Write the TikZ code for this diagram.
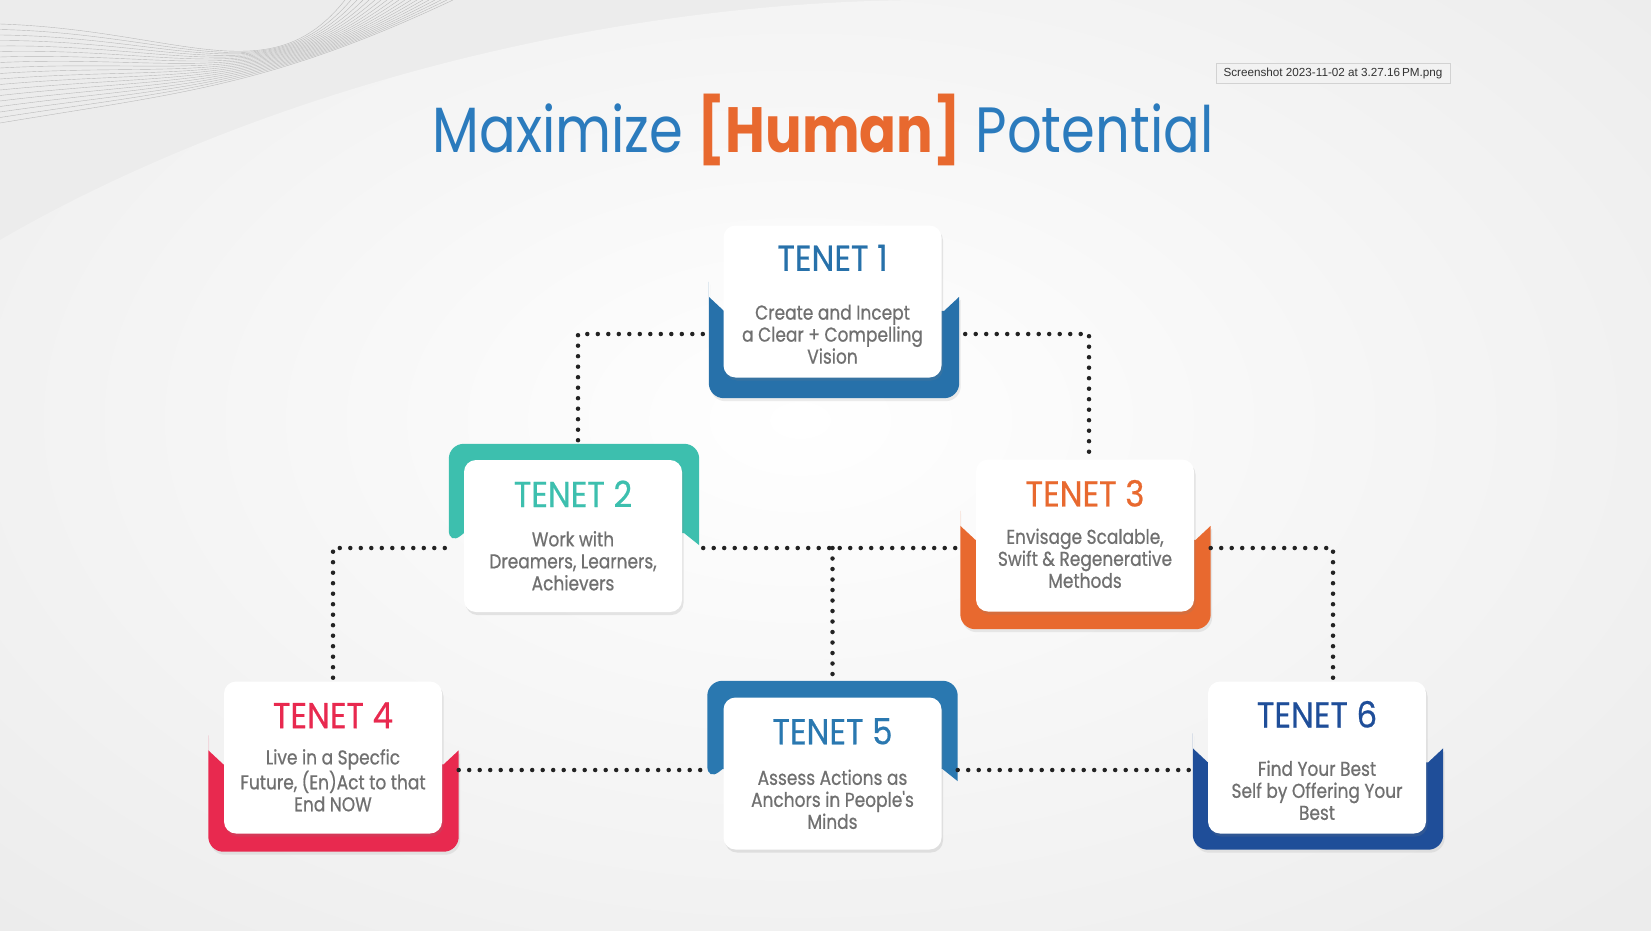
\documentclass[tikz,border=0pt]{standalone}
\usepackage{fontspec}
\setmainfont{Poppins}
\newfontfamily\titlefont[FakeStretch=0.85]{Poppins}
\newfontfamily\tenetfont[FakeStretch=0.9,FakeBold=0.6]{Poppins}
\newfontfamily\descfont[FakeStretch=0.85,FakeBold=0.7]{Poppins}
\newfontfamily\uifont{Liberation Sans}
\usetikzlibrary{calc,shadows}
\definecolor{bgray}{HTML}{ECECEC}
\definecolor{titleblue}{HTML}{2B7BBD}
\definecolor{horange}{HTML}{E8692F}
\definecolor{cblue}{HTML}{2771AA}
\definecolor{cteal}{HTML}{3DBFAE}
\definecolor{corange}{HTML}{E8692F}
\definecolor{cred}{HTML}{E8294F}
\definecolor{cblueb}{HTML}{2A78B0}
\definecolor{cnavy}{HTML}{1F4E99}
\definecolor{desccol}{HTML}{707070}
\definecolor{dotcol}{HTML}{222222}
\tikzset{
  card/.style={fill=white, rounded corners=12pt, minimum width=218pt, minimum height=152pt, inner sep=0pt,
    drop shadow={opacity=0.18, shadow xshift=1.5pt, shadow yshift=-3pt}},
  backbox/.style={minimum width=250pt, minimum height=101pt, inner sep=0pt},
  tenettitle/.style={font=\tenetfont\fontsize{36}{40}\selectfont, inner sep=0pt},
  desc/.style={font=\descfont\fontsize{20}{22}\selectfont, text=desccol, align=center, inner sep=0pt},
  dotline/.style={draw=dotcol, line width=4.5pt, line cap=round, dash pattern=on 0pt off 10.5pt},
}
\newcommand{\bottomtab}[2]{%
  \fill[#2, drop shadow={opacity=0.15, shadow xshift=1.5pt, shadow yshift=-3pt}] (#1.north west) -- ++(15,14) -- ($(#1.north east)+(-15,14)$) -- (#1.north east) [rounded corners=15pt] -- (#1.south east) -- (#1.south west) -- (#1.north west) [sharp corners] -- cycle;}
\newcommand{\toptab}[2]{%
  \fill[#2] (#1.south east) [rounded corners=15pt] -- (#1.north east) -- (#1.north west) -- (#1.south west) [sharp corners] -- ++(15,-12) -- ($(#1.south east)+(-15,-12)$) -- cycle;}
\begin{document}
\begin{tikzpicture}[x=1pt,y=-1pt]
\useasboundingbox (0,0) rectangle (1651,931);
% background
\fill[bgray] (0,0) rectangle (1651,931);
\begin{scope}
  \clip (0,240) .. controls (250,95) and (600,0) .. (930,0) -- (1651,0) -- (1651,931) -- (0,931) -- cycle;
  \shade[inner color=white, outer color=bgray] (800,420) ellipse (1150pt and 700pt);
\end{scope}
% wavy lines
\foreach \i in {0,...,18}{
  \draw[gray!55, line width=0.4pt] (0,{24+5.5*\i}) .. controls (180,{30+3.5*\i}) and (270,{95-0.5*\i}) .. ({345+6*\i},0);
}
% screenshot label
\node[fill=bgray!70, draw=gray!35, line width=0.4pt, minimum width=234pt, minimum height=20pt, inner sep=0pt,
  font=\uifont\fontsize{11.7}{13}\selectfont, text=black!80,
  drop shadow={opacity=0.12, shadow xshift=0.5pt, shadow yshift=-1pt}] (shot) at (1333,73) {Screenshot 2023-11-02 at 3.27.16\,PM.png};
% title
\node[font=\titlefont\fontsize{64}{72}\selectfont, text=titleblue, inner sep=0pt, anchor=base] (title) at (823,153)
  {Maximize {\bfseries\color{horange}[Human]} Potential};
% back shapes (anchors)
\node[backbox] (b1) at (834,347.5) {};
\node[backbox] (b2) at (574,494.5) {};
\node[backbox, minimum height=103pt] (b3) at (1085.5,577.5) {};
\node[backbox] (b4) at (333.5,801) {};
\node[backbox, minimum height=100pt] (b5) at (832.5,731) {};
\node[backbox] (b6) at (1318,799) {};
\coordinate (y1) at (0,334);
\coordinate (y2) at (0,548);
\coordinate (y3) at (0,770);
\bottomtab{b1}{cblue}
\toptab{b2}{cteal}
\bottomtab{b3}{corange}
\bottomtab{b4}{cred}
\toptab{b5}{cblueb}
\bottomtab{b6}{cnavy}
% cards
\node[card] (c1) at (832.5,301.5) {};
\node[card] (c2) at (573,536) {};
\node[card] (c3) at (1085,535.5) {};
\node[card] (c4) at (333,757.5) {};
\node[card] (c5) at (832.5,773.5) {};
\node[card] (c6) at (1317,757.5) {};
% connectors
\draw[dotline] ([xshift=-6pt]b1.west |- y1) -| ([xshift=4pt]b2.north);
\draw[dotline] ([xshift=6pt]b1.east |- y1) -| ([xshift=4pt]c3.north);
\draw[dotline] ([xshift=-4pt]b2.west |- y2) -| (c4.north);
\draw[dotline] ([xshift=4pt]b2.east |- y2) -- (b3.west |- y2);
\coordinate (m5) at (b5.north |- y2);
\draw[dotline] (m5) -- (b5.north);
\draw[dotline] (b3.east |- y2) -| ([xshift=16pt]c6.north);
\draw[dotline] (b4.east |- y3) -- (b5.west |- y3);
\draw[dotline] (b5.east |- y3) -- (b6.west |- y3);
% texts
\node[tenettitle, text=cblue] (t1) at ($(c1.north)+(0,32.5)$) {TENET 1};
\node[desc] (d1) at ($(c1.north)+(0,109)$) {Create and Incept\\a Clear + Compelling\\Vision};
\node[tenettitle, text=cteal] (t2) at ($(c2.north)+(0,34)$) {TENET 2};
\node[desc] (d2) at ($(c2.north)+(0,101)$) {Work with\\Dreamers, Learners,\\Achievers};
\node[tenettitle, text=corange] (t3) at ($(c3.north)+(0,34)$) {TENET 3};
\node[desc] (d3) at ($(c3.north)+(0,99)$) {Envisage Scalable,\\Swift \& Regenerative\\Methods};
\node[tenettitle, text=cred] (t4) at ($(c4.north)+(0,34)$) {TENET 4};
\node[desc] (d4) at ($(c4.north)+(0,99)$) {Live in a Specfic\\Future, (En)Act to that\\End NOW};
\node[tenettitle, text=cblueb] (t5) at ($(c5.north)+(0,34)$) {TENET 5};
\node[desc] (d5) at ($(c5.north)+(0,102)$) {Assess Actions as\\Anchors in People's\\Minds};
\node[tenettitle, text=cnavy] (t6) at ($(c6.north)+(0,33)$) {TENET 6};
\node[desc] (d6) at ($(c6.north)+(0,109)$) {Find Your Best\\Self by Offering Your\\Best};
\end{tikzpicture}
\end{document}
